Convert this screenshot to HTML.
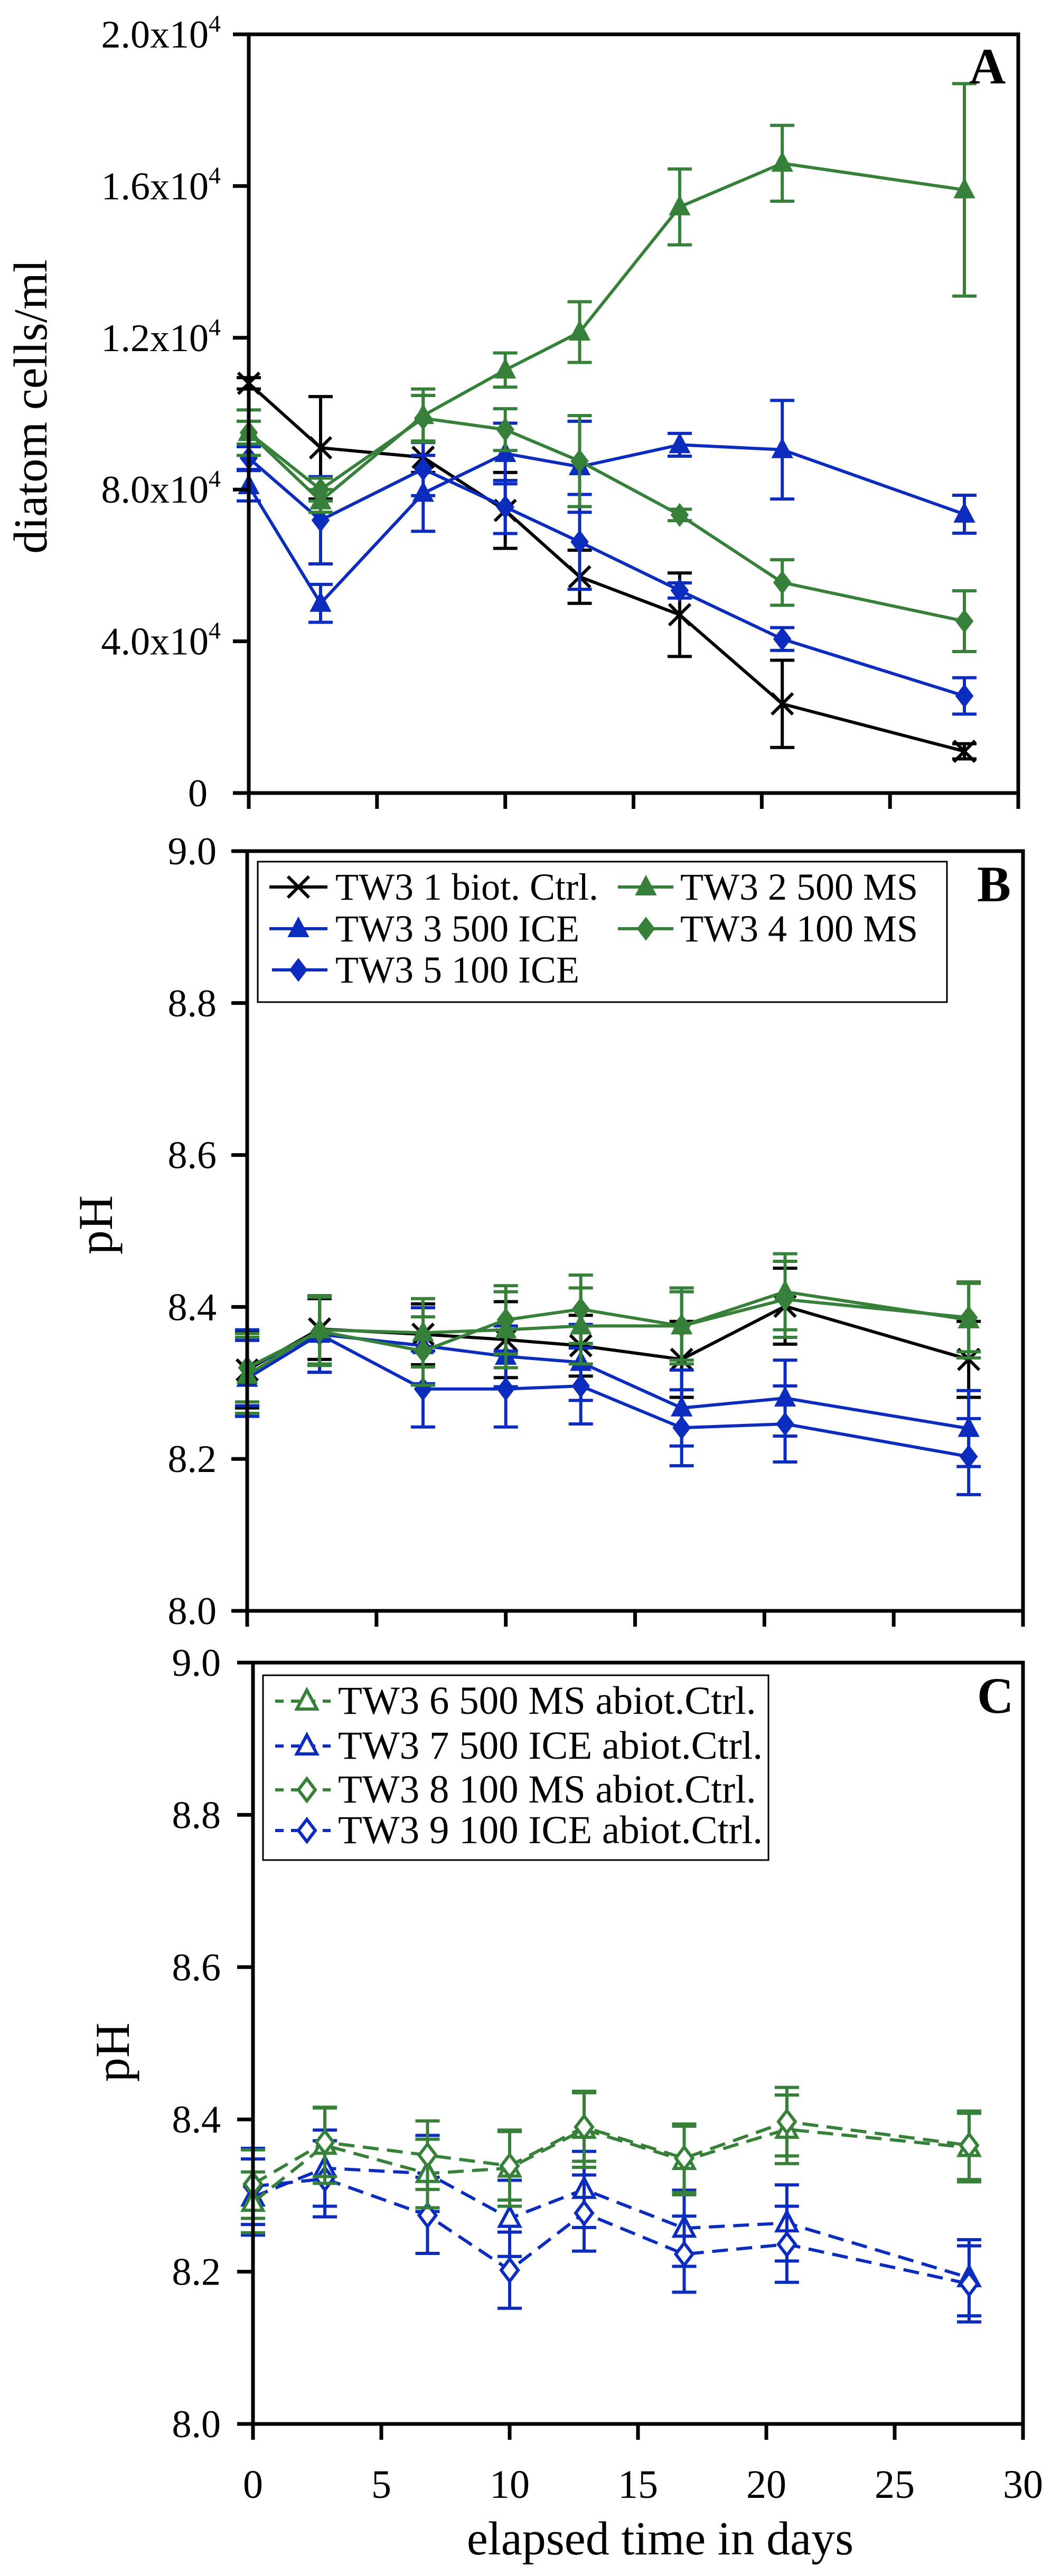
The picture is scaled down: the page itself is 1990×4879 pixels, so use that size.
<!DOCTYPE html>
<html><head><meta charset="utf-8"><style>
html,body{margin:0;padding:0;background:#fff;}
svg{display:block;font-family:"Liberation Serif","Times New Roman",serif;}
</style></head><body>
<svg id="chart" xmlns="http://www.w3.org/2000/svg" width="1990" height="4879" viewBox="0 0 1990 4879">
<rect x="0" y="0" width="1990" height="4879" fill="#fff"/>
<g id="layer"></g>
</svg>
<script>
// ---- data ----
const days = [0, 2.8, 6.8, 10, 12.9, 16.8, 20.8, 27.9];
const xTicks = [0, 5, 10, 15, 20, 25, 30];
const xTickLabels = ["0", "5", "10", "15", "20", "25", "30"];
const aTicks = [0, 4000, 8000, 12000, 16000, 20000];
const aTickLabels = ["0", "4.0x10", "8.0x10", "1.2x10", "1.6x10", "2.0x10"];
const phTicks = [8.0, 8.2, 8.4, 8.6, 8.8, 9.0];
const phTickLabels = ["8.0", "8.2", "8.4", "8.6", "8.8", "9.0"];

// Panel A: diatom cells/ml
const aCtrl = [10800, 9100, 8850, 7450, 5700, 4700, 2350, 1100];
const aCtrlErr = [150, 1350, 400, 1000, 700, 1100, 1150, 200];
const a500MS = [9500, 7700, 9950, 11150, 12150, 15450, 16600, 15900];
const a500MSErr = [600, 300, 700, 450, 800, 1000, 1000, 2800];
const a500ICE = [8100, 5000, 7900, 8950, 8600, 9180, 9050, 7350];
const a500ICEErr = [400, 500, 1000, 800, 1200, 300, 1300, 500];
const a100MS = [9500, 8000, 9880, 9580, 8750, 7330, 5550, 4530];
const a100MSErr = [300, 300, 600, 550, 1200, 150, 600, 800];
const a100ICE = [8830, 7190, 8540, 7540, 6620, 5340, 4060, 2560];
const a100ICEErr = [300, 1150, 700, 700, 1250, 200, 300, 480];

// Panel B: pH biotic
const bCtrl = [8.317, 8.371, 8.364, 8.357, 8.349, 8.331, 8.401, 8.331];
const bCtrlErr = [0.05, 0.04, 0.04, 0.05, 0.04, 0.05, 0.05, 0.05];
const b500MS = [8.31, 8.37, 8.366, 8.37, 8.375, 8.375, 8.42, 8.383];
const b500MSErr = [0.05, 0.045, 0.045, 0.05, 0.05, 0.05, 0.05, 0.05];
const b100MS = [8.32, 8.368, 8.342, 8.383, 8.397, 8.375, 8.41, 8.386];
const b100MSErr = [0.045, 0.045, 0.045, 0.045, 0.045, 0.045, 0.05, 0.045];
const b500ICE = [8.306, 8.364, 8.349, 8.335, 8.327, 8.267, 8.28, 8.24];
const b500ICEErr = [0.05, 0.05, 0.05, 0.04, 0.05, 0.05, 0.05, 0.05];
const b100ICE = [8.32, 8.364, 8.292, 8.292, 8.296, 8.241, 8.246, 8.203];
const b100ICEErr = [0.05, 0.05, 0.05, 0.05, 0.05, 0.05, 0.05, 0.05];

// Panel C: pH abiotic
const c500MS = [8.291, 8.366, 8.329, 8.336, 8.387, 8.346, 8.387, 8.363];
const c500MSErr = [0.04, 0.05, 0.045, 0.05, 0.05, 0.045, 0.045, 0.045];
const c500ICE = [8.298, 8.336, 8.329, 8.27, 8.308, 8.257, 8.264, 8.192];
const c500ICEErr = [0.05, 0.05, 0.05, 0.05, 0.05, 0.05, 0.05, 0.05];
const c100MS = [8.315, 8.37, 8.353, 8.339, 8.39, 8.349, 8.397, 8.366];
const c100MSErr = [0.045, 0.045, 0.045, 0.045, 0.045, 0.045, 0.045, 0.045];
const c100ICE = [8.312, 8.322, 8.274, 8.202, 8.277, 8.223, 8.236, 8.184];
const c100ICEErr = [0.05, 0.05, 0.05, 0.05, 0.05, 0.05, 0.05, 0.05];

const GREEN = "#37803a", BLUE = "#0c2cbd", BLACK = "#000";
const NS = "http://www.w3.org/2000/svg";
const layer = document.getElementById("layer");

function mk(tag, attrs, parent) {
  const e = document.createElementNS(NS, tag);
  for (const k in attrs) e.setAttribute(k, attrs[k]);
  (parent || layer).appendChild(e);
  return e;
}
function scale(d0, d1, r0, r1) { return v => r0 + (v - d0) * (r1 - r0) / (d1 - d0); }

function marker(g, type, cx, cy, color, hollow, size) {
  const s = size || 20;
  let e;
  if (type === "tri") {
    e = mk("polygon", {points: `${cx},${cy - s * 1.05} ${cx - s * 0.95},${cy + s * 0.75} ${cx + s * 0.95},${cy + s * 0.75}`,
      fill: hollow ? "#fff" : color, stroke: color, "stroke-width": hollow ? 6 : 2}, g);
  } else if (type === "dia") {
    e = mk("polygon", {points: `${cx},${cy - s * 1.05} ${cx + s * 0.8},${cy} ${cx},${cy + s * 1.05} ${cx - s * 0.8},${cy}`,
      fill: hollow ? "#fff" : color, stroke: color, "stroke-width": hollow ? 6 : 2}, g);
  } else {
    e = mk("path", {d: `M${cx - s},${cy - s} L${cx + s},${cy + s} M${cx - s},${cy + s} L${cx + s},${cy - s}`,
      stroke: color, "stroke-width": 6, fill: "none"}, g);
  }
  return e;
}

function drawPanel(p) {
  const g = mk("g", {});
  
  
  const xs = scale(0, 30, p.x0, p.x1);
  const ys = scale(p.ymin, p.ymax, p.yb, p.yt);
  // series
  p.series.forEach(s => {
    const sg = mk("g", {}, g);
    
    
    // error bars
    s.vals.forEach((v, i) => {
      const x = xs(days[i]), yt = ys(v + s.err[i]), yb = ys(v - s.err[i]);
      const eb = mk("path", {d: `M${x},${yt} L${x},${yb} M${x - 23},${yt} L${x + 23},${yt} M${x - 23},${yb} L${x + 23},${yb}`,
        stroke: s.color, "stroke-width": 6, fill: "none"}, sg);
      
      
    });
    const pts = s.vals.map((v, i) => `${xs(days[i])},${ys(v)}`).join(" ");
    const line = mk("polyline", {points: pts, fill: "none", stroke: s.color, "stroke-width": 6,
      "stroke-dasharray": s.dash ? "30 16" : "none"}, sg);
    
    
    s.vals.forEach((v, i) => {
      const m = marker(sg, s.marker, xs(days[i]), ys(v), s.color, s.hollow);
      
      
    });
  });
  // frame
  const fr = mk("rect", {x: p.x0, y: p.yt, width: p.x1 - p.x0, height: p.yb - p.yt, fill: "none", stroke: "#000", "stroke-width": 7}, g);
  
  
  // x ticks
  xTicks.forEach((t, i) => {
    const x = xs(t);
    const tk = mk("line", {x1: x, x2: x, y1: p.yb, y2: p.yb + 30, stroke: "#000", "stroke-width": 7}, g);
    
    
    if (p.xLabels) {
      const tx = mk("text", {x: x, y: p.yb + 140, "font-size": 76, "text-anchor": "middle", fill: "#000"}, g);
      tx.textContent = xTickLabels[i];
      
      
    }
  });
  // y ticks
  p.yTicks.forEach((t, i) => {
    const y = ys(t);
    const tk = mk("line", {x1: p.x0 - 30, x2: p.x0, y1: y, y2: y, stroke: "#000", "stroke-width": 7}, g);
    
    
    const lab = p.yLabels[i];
    const tx = mk("text", {x: p.labelX, y: y + 25, "font-size": 74, "text-anchor": "end", fill: "#000"}, g);
    
    
    if (p.sup && lab !== "0") {
      tx.textContent = lab;
      const sp = mk("tspan", {"font-size": 46, dy: -30}, tx);
      sp.textContent = "4";
    } else {
      if (lab === "0") tx.setAttribute("x", p.labelX - 25);
      tx.textContent = lab;
    }
  });
  return {g, xs, ys};
}

// Panel A
drawPanel({name: "panel-a", x0: 471, x1: 1928, yb: 1502, yt: 65, ymin: 0, ymax: 20000,
  yTicks: aTicks, yLabels: aTickLabels, labelX: 418, sup: true, xLabels: false,
  series: [
    {name: "series-tw3-1-biot-ctrl", vals: aCtrl, err: aCtrlErr, color: BLACK, marker: "x"},
    {name: "series-tw3-3-500-ice", vals: a500ICE, err: a500ICEErr, color: BLUE, marker: "tri"},
    {name: "series-tw3-5-100-ice", vals: a100ICE, err: a100ICEErr, color: BLUE, marker: "dia"},
    {name: "series-tw3-4-100-ms", vals: a100MS, err: a100MSErr, color: GREEN, marker: "dia"},
    {name: "series-tw3-2-500-ms", vals: a500MS, err: a500MSErr, color: GREEN, marker: "tri"}
  ]});
// Panel B
drawPanel({name: "panel-b", x0: 468, x1: 1937, yb: 3051, yt: 1612, ymin: 8.0, ymax: 9.0,
  yTicks: phTicks, yLabels: phTickLabels, labelX: 410, sup: false, xLabels: false,
  series: [
    {name: "series-tw3-1-biot-ctrl", vals: bCtrl, err: bCtrlErr, color: BLACK, marker: "x"},
    {name: "series-tw3-3-500-ice", vals: b500ICE, err: b500ICEErr, color: BLUE, marker: "tri"},
    {name: "series-tw3-5-100-ice", vals: b100ICE, err: b100ICEErr, color: BLUE, marker: "dia"},
    {name: "series-tw3-4-100-ms", vals: b100MS, err: b100MSErr, color: GREEN, marker: "dia"},
    {name: "series-tw3-2-500-ms", vals: b500MS, err: b500MSErr, color: GREEN, marker: "tri"}
  ]});
// Panel C
drawPanel({name: "panel-c", x0: 479, x1: 1937, yb: 4591, yt: 3149, ymin: 8.0, ymax: 9.0,
  yTicks: phTicks, yLabels: phTickLabels, labelX: 418, sup: false, xLabels: true,
  series: [
    {name: "series-tw3-7-500-ice-abiot", vals: c500ICE, err: c500ICEErr, color: BLUE, marker: "tri", hollow: true, dash: true},
    {name: "series-tw3-9-100-ice-abiot", vals: c100ICE, err: c100ICEErr, color: BLUE, marker: "dia", hollow: true, dash: true},
    {name: "series-tw3-6-500-ms-abiot", vals: c500MS, err: c500MSErr, color: GREEN, marker: "tri", hollow: true, dash: true},
    {name: "series-tw3-8-100-ms-abiot", vals: c100MS, err: c100MSErr, color: GREEN, marker: "dia", hollow: true, dash: true}
  ]});

// Legends
function legendEntry(x1, x2, mx, y, color, type, hollow, dash, text, tx, fs) {
  const g = mk("g", {});
  
  
  mk("line", {x1: x1, x2: x2, y1: y, y2: y, stroke: color, "stroke-width": 6, "stroke-dasharray": dash ? "16 14" : "none"}, g);
  marker(g, type, mx, y, color, hollow);
  const t = mk("text", {x: tx, y: y + 24, "font-size": fs, fill: "#000"}, g);
  t.textContent = text;
}
const lb = mk("rect", {x: 488, y: 1632, width: 1305, height: 266, fill: "#fff", stroke: "#000", "stroke-width": 3});


legendEntry(510, 620, 565, 1680, BLACK, "x", false, false, "TW3 1 biot. Ctrl.", 635, 72);
legendEntry(1170, 1275, 1223, 1680, GREEN, "tri", false, false, "TW3 2 500 MS", 1288, 72);
legendEntry(510, 620, 565, 1759, BLUE, "tri", false, false, "TW3 3 500 ICE", 635, 72);
legendEntry(1170, 1275, 1223, 1759, GREEN, "dia", false, false, "TW3 4 100 MS", 1288, 72);
legendEntry(515, 620, 565, 1837, BLUE, "dia", false, false, "TW3 5 100 ICE", 635, 72);

const lc = mk("rect", {x: 498, y: 3173, width: 957, height: 350, fill: "#fff", stroke: "#000", "stroke-width": 3});


legendEntry(521, 626, 581, 3222, GREEN, "tri", true, true, "TW3 6 500 MS abiot.Ctrl.", 640, 75);
legendEntry(521, 626, 581, 3307, BLUE, "tri", true, true, "TW3 7 500 ICE abiot.Ctrl.", 640, 75);
legendEntry(521, 626, 581, 3390, GREEN, "dia", true, true, "TW3 8 100 MS abiot.Ctrl.", 640, 75);
legendEntry(521, 626, 581, 3467, BLUE, "dia", true, true, "TW3 9 100 ICE abiot.Ctrl.", 640, 75);
</script>
<svg width="0" height="0" style="position:absolute"></svg>
<div style="position:absolute;left:0;top:0;width:1990px;height:4879px;pointer-events:none;">
<svg width="1990" height="4879" viewBox="0 0 1990 4879" style="font-family:'Liberation Serif','Times New Roman',serif;">
<text x="1835" y="158" font-size="96" font-weight="bold">A</text>
<text x="1850" y="1707" font-size="96" font-weight="bold">B</text>
<text x="1850" y="3244" font-size="96" font-weight="bold">C</text>
<text x="0" y="0" font-size="90" text-anchor="middle" transform="translate(88,770) rotate(-90)">diatom cells/ml</text>
<text x="0" y="0" font-size="92" text-anchor="middle" transform="translate(212,2320) rotate(-90)">pH</text>
<text x="0" y="0" font-size="92" text-anchor="middle" transform="translate(244,3887) rotate(-90)">pH</text>
<text x="1250" y="4838" font-size="90" text-anchor="middle">elapsed time in days</text>
</svg>
</div>
</body></html>
